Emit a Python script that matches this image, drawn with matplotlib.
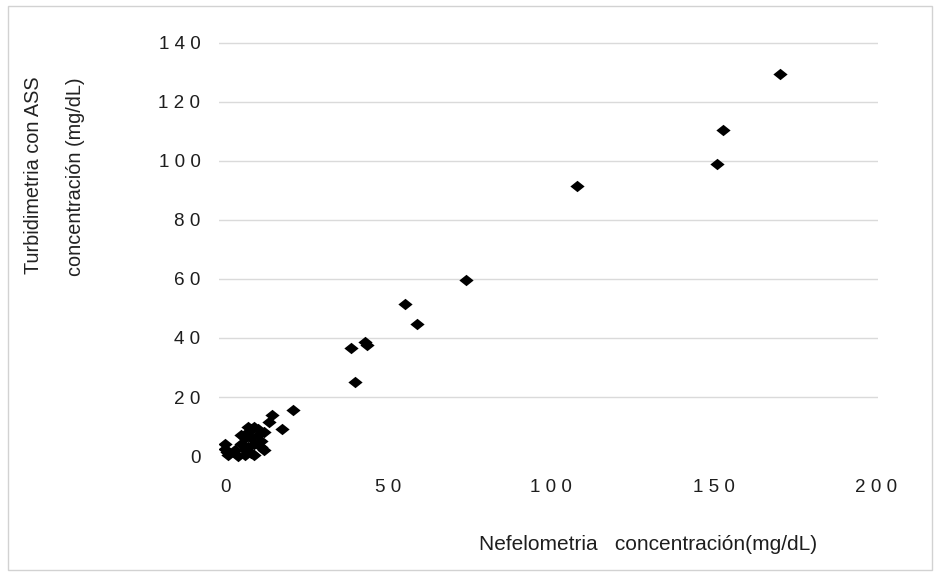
import matplotlib
matplotlib.use('Agg')
import matplotlib.pyplot as plt
from matplotlib.patches import Rectangle
from matplotlib.ticker import FuncFormatter

# Nefelometria (x) vs Turbidimetria con ASS (y), mg/dL
nefelometria = [170.5, 152.8, 151.2, 108, 74, 55.2, 59, 38.7, 43.6, 43.0, 40,
                21, 14.5, 13.5, 17.5, 0, 0, 1, 0.5, 4, 6, 9, 12,
                5, 6, 7, 8, 9, 10, 8, 10, 11, 7, 9, 6, 12, 3, 8, 11, 5, 7]
turbidimetria = [129.5, 110.5, 99, 91.5, 59.5, 51.5, 44.7, 36.6, 37.6, 38.5, 25.1,
                 15.5, 14, 11.5, 9, 4.2, 2.5, 0.3, 1.5, 0, 0.5, 0.3, 2,
                 4, 6, 8, 9, 10, 9, 6, 7, 5, 3, 4, 2, 8, 2, 1, 3, 7, 10]

x_ticks = [0, 50, 100, 150, 200]
y_ticks = [0, 20, 40, 60, 80, 100, 120, 140]

plt.rcParams['font.family'] = ['Liberation Sans', 'DejaVu Sans']

fig = plt.figure(figsize=(9.38, 5.79), dpi=100)
fig.patch.set_facecolor('white')

# faint border of the chart area
fig.patches.append(Rectangle((8 / 938, 1 - 570 / 579), 924 / 938, 564 / 579,
                             transform=fig.transFigure, fill=False,
                             edgecolor='#d2d2d2', linewidth=1))

ax = fig.add_axes([0.233, 0.192, 0.703, 0.739])

# horizontal gridlines (no line at zero)
for yv in y_ticks[1:]:
    ax.axhline(yv, color='#dadada', linewidth=1, zorder=1)

diamond = [(-1, 0), (0, 0.8), (1, 0), (0, -0.8)]
ax.scatter(nefelometria, turbidimetria, marker=diamond, s=105,
           color='black', linewidths=0, zorder=3)

ax.set_xlim(-2, 200.5)
ax.set_ylim(-4, 141)
ax.set_xticks(x_ticks)
ax.set_yticks(y_ticks)

spaced = FuncFormatter(lambda v, pos: ' '.join(str(int(v))))
ax.xaxis.set_major_formatter(spaced)
ax.yaxis.set_major_formatter(spaced)
ax.tick_params(length=0, labelsize=13.6, colors='#1e1e1e')
ax.tick_params(axis='y', pad=13)
ax.tick_params(axis='x', pad=8)

for s in ax.spines.values():
    s.set_visible(False)

fig.text(34 / 938, 1 - 175 / 579, 'Turbidimetria con ASS', rotation=90,
         ha='center', va='center', fontsize=14.3, color='#222222')
fig.text(75 / 938, 1 - 177 / 579, 'concentración (mg/dL)', rotation=90,
         ha='center', va='center', fontsize=14.3, color='#222222')

fig.text(648 / 938, 1 - 545 / 579, 'Nefelometria   concentración(mg/dL)',
         ha='center', va='center', fontsize=15, color='#1e1e1e')

fig.savefig('out.png', dpi=100)
plt.close(fig)
